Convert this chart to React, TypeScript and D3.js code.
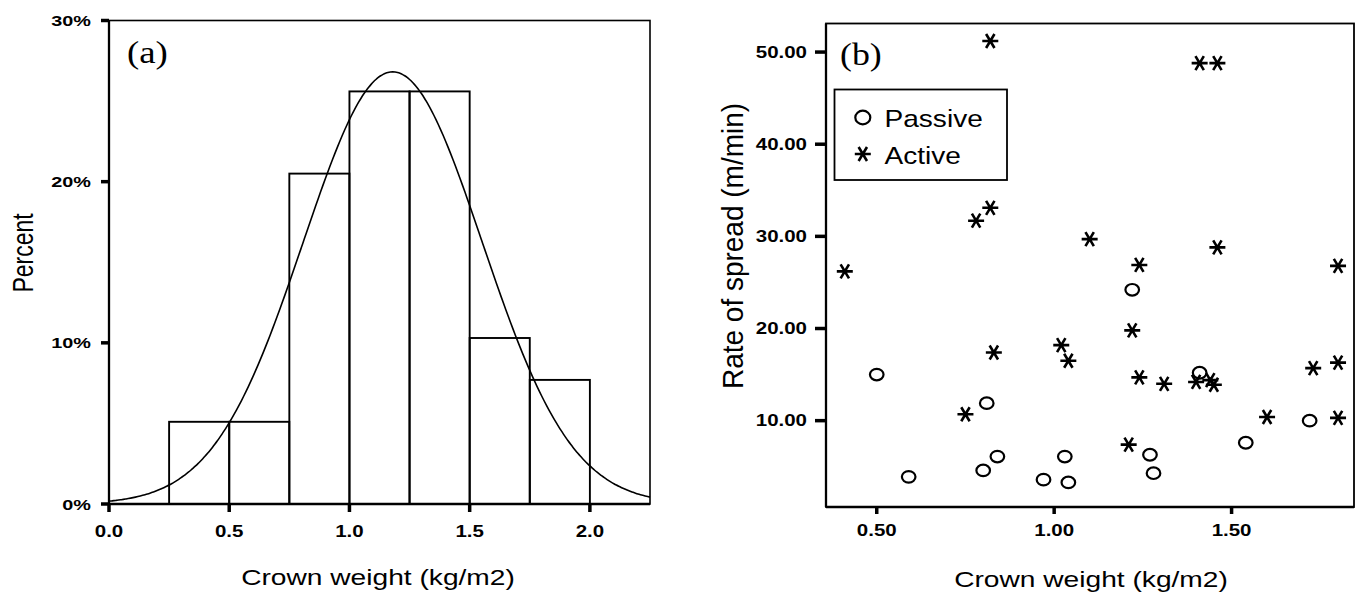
import React from "react";
import * as d3 from "d3";

// ---------- Panel (a): histogram of crown weight ----------
const binStarts = [0.25, 0.5, 0.75, 1.0, 1.25, 1.5, 1.75];
const binPercents = [5.1, 5.1, 20.5, 25.6, 25.6, 10.3, 7.7];
const binWidth = 0.25;
const normalMean = 1.18;
const normalSD = 0.372;
const xTicksA = [0, 0.5, 1.0, 1.5, 2.0];
const xTickLabelsA = ["0.0", "0.5", "1.0", "1.5", "2.0"];
const yTicksA = [0, 10, 20, 30];
const yTickLabelsA = ["0%", "10%", "20%", "30%"];

// ---------- Panel (b): scatter ----------
const passiveX = [0.5, 0.81, 1.22, 1.41, 1.72, 1.54, 0.59, 0.8, 0.84, 0.97, 1.03, 1.04, 1.27, 1.28];
const passiveY = [15.0, 11.9, 24.2, 15.2, 10.0, 7.6, 3.9, 4.6, 6.1, 3.6, 6.1, 3.3, 6.3, 4.3];
const activeX = [0.41, 0.82, 1.41, 1.46, 0.78, 0.82, 1.1, 1.46, 1.24, 1.8, 1.22, 1.02, 1.04, 0.83, 1.24, 1.31, 1.4, 1.44, 1.45, 1.73, 1.8, 0.75, 1.6, 1.8, 1.21];
const activeY = [26.2, 51.2, 48.8, 48.8, 31.7, 33.1, 29.7, 28.8, 26.9, 26.8, 19.8, 18.2, 16.5, 17.4, 14.7, 14.0, 14.2, 14.4, 13.9, 15.7, 16.3, 10.7, 10.4, 10.3, 7.4];
const xTicksB = [0.5, 1.0, 1.5];
const xTickLabelsB = ["0.50", "1.00", "1.50"];
const yTicksB = [10, 20, 30, 40, 50];
const yTickLabelsB = ["10.00", "20.00", "30.00", "40.00", "50.00"];
const legendLabels = ["Passive", "Active"];

const SANS = "'Liberation Sans', Arial, sans-serif";
const SERIF = "'Liberation Serif', 'Times New Roman', serif";
const SX = 1.28;

function SText(props: any) {
  const { x, y, size, weight, anchor, rotate, family, sx, children, dy } = props;
  const s = sx ?? SX;
  const tr = `translate(${x},${y}) scale(${s},1)` + (rotate ? ` rotate(${rotate})` : "");
  return (
    <text
      transform={tr}
      fontSize={size}
      fontWeight={weight || "normal"}
      textAnchor={anchor || "middle"}
      fontFamily={family || SANS}
      dy={dy || 0}
      fill="#000"
    >
      {children}
    </text>
  );
}

function starPath(cx: number, cy: number) {
  const w = 8, h = 7, dx = 4.2;
  return `M${cx - w},${cy}L${cx + w},${cy}M${cx - dx},${cy - h}L${cx + dx},${cy + h}M${cx + dx},${cy - h}L${cx - dx},${cy + h}`;
}

export default function App() {
  // Panel (a) scales
  const ax = d3.scaleLinear().domain([0, 2.25]).range([109, 650]);
  const ay = d3.scaleLinear().domain([0, 30]).range([504, 20.5]);
  const pdf = (x: number) =>
    (100 * binWidth * Math.exp(-((x - normalMean) ** 2) / (2 * normalSD * normalSD))) /
    (normalSD * Math.sqrt(2 * Math.PI));
  const curvePts = d3.range(0, 2.2501, 0.01).map((x) => [x, pdf(x)] as [number, number]);
  const curve = d3
    .line<[number, number]>()
    .x((d) => ax(d[0]))
    .y((d) => ay(d[1]))
    .curve(d3.curveMonotoneX)(curvePts);

  // Panel (b) scales
  const bx = d3.scaleLinear().domain([0.357, 1.845]).range([826, 1354]);
  const by = d3.scaleLinear().domain([0.63, 53.1]).range([507, 23.5]);

  return (
    <svg
      width={1357}
      height={600}
      style={{ position: "absolute", left: 0, top: 0, background: "#fff" }}
    >
      <rect x={0} y={0} width={1357} height={600} fill="#fff" />

      {/* ===== Panel (a) ===== */}
      {binStarts.map((b, i) => (
        <rect
          key={"bar" + i}
          x={ax(b)}
          y={ay(binPercents[i])}
          width={ax(b + binWidth) - ax(b)}
          height={ay(0) - ay(binPercents[i])}
          fill="none"
          stroke="#000"
          strokeWidth={1.9}
        />
      ))}
      <path d={curve || ""} fill="none" stroke="#000" strokeWidth={1.6} />
      {/* frame */}
      <rect x={ax(0)} y={ay(30)} width={ax(2.25) - ax(0)} height={ay(0) - ay(30)} fill="none" stroke="#000" strokeWidth={1.6} />
      <line x1={ax(0)} x2={ax(0)} y1={ay(30)} y2={ay(0)} stroke="#000" strokeWidth={2.3} />
      <line x1={ax(0)} x2={ax(2.25)} y1={ay(0)} y2={ay(0)} stroke="#000" strokeWidth={2.3} />
      {yTicksA.map((t, i) => (
        <g key={"ya" + i}>
          <line x1={ax(0) - 8} x2={ax(0)} y1={ay(t)} y2={ay(t)} stroke="#000" strokeWidth={3.5} />
          <SText x={91} y={ay(t)} dy="0.36em" size={15.5} weight="bold" anchor="end">
            {yTickLabelsA[i]}
          </SText>
        </g>
      ))}
      {xTicksA.map((t, i) => (
        <g key={"xa" + i}>
          <line x1={ax(t)} x2={ax(t)} y1={ay(0)} y2={ay(0) + 8} stroke="#000" strokeWidth={3.5} />
          <SText x={ax(t)} y={531} dy="0.36em" size={16} weight="bold">
            {xTickLabelsA[i]}
          </SText>
        </g>
      ))}
      <SText x={127} y={63} size={32} family={SERIF} anchor="start" sx={1.15}>
        (a)
      </SText>
      <SText x={33} y={253} size={23} rotate={-90}>
        Percent
      </SText>
      <SText x={378} y={585} size={22}>
        Crown weight (kg/m2)
      </SText>

      {/* ===== Panel (b) ===== */}
      <rect x={826} y={23.5} width={1354 - 826} height={507 - 23.5} fill="none" stroke="#000" strokeWidth={1.8} />
      <line x1={826} x2={826} y1={23.5} y2={507} stroke="#000" strokeWidth={2.3} />
      <line x1={826} x2={1354} y1={507} y2={507} stroke="#000" strokeWidth={2.3} />
      {yTicksB.map((t, i) => (
        <g key={"yb" + i}>
          <line x1={815} x2={826} y1={by(t)} y2={by(t)} stroke="#000" strokeWidth={3.5} />
          <SText x={807} y={by(t)} dy="0.36em" size={16} weight="bold" anchor="end">
            {yTickLabelsB[i]}
          </SText>
        </g>
      ))}
      {xTicksB.map((t, i) => (
        <g key={"xb" + i}>
          <line x1={bx(t)} x2={bx(t)} y1={507} y2={514} stroke="#000" strokeWidth={3.5} />
          <SText x={bx(t)} y={530} dy="0.36em" size={16} weight="bold">
            {xTickLabelsB[i]}
          </SText>
        </g>
      ))}
      {passiveX.map((x, i) => (
        <ellipse key={"p" + i} cx={bx(x)} cy={by(passiveY[i])} rx={6.8} ry={5.8} fill="none" stroke="#000" strokeWidth={2.2} />
      ))}
      {activeX.map((x, i) => (
        <path key={"a" + i} d={starPath(bx(x), by(activeY[i]))} stroke="#000" strokeWidth={2.6} fill="none" />
      ))}
      <SText x={840} y={65} size={32} family={SERIF} anchor="start" sx={1.12}>
        (b)
      </SText>
      {/* legend */}
      <rect x={834.5} y={89.5} width={1007 - 834.5} height={180 - 89.5} fill="#fff" stroke="#000" strokeWidth={1.8} />
      <ellipse cx={862.8} cy={117.5} rx={7.5} ry={6.8} fill="none" stroke="#000" strokeWidth={2.2} />
      <SText x={884.5} y={126.5} size={24} anchor="start" sx={1.17}>
        {legendLabels[0]}
      </SText>
      <path d={starPath(862.8, 154)} stroke="#000" strokeWidth={2.6} fill="none" />
      <SText x={884.5} y={163.5} size={24} anchor="start" sx={1.17}>
        {legendLabels[1]}
      </SText>
      <SText x={743} y={246} size={28} rotate={-90} sx={1.08}>
        Rate of spread (m/min)
      </SText>
      <SText x={1091} y={587} size={22}>
        Crown weight (kg/m2)
      </SText>
    </svg>
  );
}
